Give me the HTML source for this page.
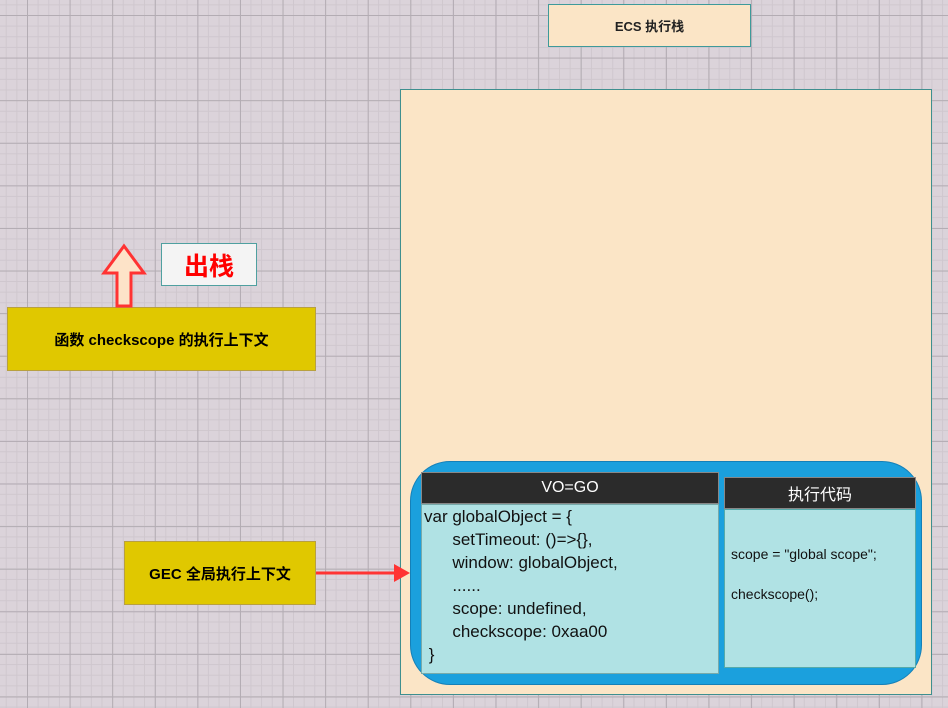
<!DOCTYPE html>
<html><head><meta charset="utf-8"><style>
body{margin:0;width:948px;height:708px;overflow:hidden;position:relative;font-family:"Liberation Sans","Noto Sans CJK SC",sans-serif;
background-color:#dbd3da;
background-image:linear-gradient(#b3acb3 1px,transparent 1px),linear-gradient(90deg,#b3acb3 1px,transparent 1px),linear-gradient(#cfc7ce 1px,transparent 1px),linear-gradient(90deg,#cfc7ce 1px,transparent 1px);
background-size:42.6px 42.6px,42.6px 42.6px,10.65px 10.65px,10.65px 10.65px;
background-position:27px 15px,27px 15px,27px 15px,27px 15px;}
.a{position:absolute;box-sizing:border-box}
</style></head><body>
<div class="a" style="left:548px;top:4px;width:203px;height:43px;background:#fbe5c6;border:1px solid #3e9a9a;font-size:13px;font-weight:bold;color:#222;display:flex;align-items:center;justify-content:center">ECS 执行栈</div>
<div class="a" style="left:400px;top:89px;width:532px;height:606px;background:#fbe5c6;border:1px solid #3e8f8f"></div>
<div class="a" style="left:410px;top:461px;width:512px;height:224px;background:#1ba0dd;border:1px solid #1580b8;border-radius:40px"></div>
<div class="a" style="left:421px;top:472px;width:298px;height:32px;background:#2b2b2b;border:1px solid #888;color:#fff;font-size:16px;display:flex;align-items:center;justify-content:center">VO=GO</div>
<div class="a" style="left:421px;top:504px;width:298px;height:170px;background:#b0e2e4;border:1px solid #7aa;font-size:17px;line-height:23px;color:#111;padding:0 0 0 2px;white-space:pre">var globalObject = {
      setTimeout: ()=&gt;{},
      window: globalObject,
      ......
      scope: undefined,
      checkscope: 0xaa00
 }</div>
<div class="a" style="left:724px;top:477px;width:192px;height:32px;background:#2b2b2b;border:1px solid #888;color:#fff;font-size:16px;display:flex;align-items:center;justify-content:center">执行代码</div>
<div class="a" style="left:724px;top:509px;width:192px;height:159px;background:#b0e2e4;border:1px solid #5aa;font-size:14px;color:#111;padding:34px 0 0 6px;line-height:20px">scope = "global scope";<br><br>checkscope();</div>
<div class="a" style="left:124px;top:541px;width:192px;height:64px;background:#e0c800;border:1px solid #b8a040;font-size:15px;font-weight:bold;display:flex;align-items:center;justify-content:center">GEC 全局执行上下文</div>
<div class="a" style="left:7px;top:307px;width:309px;height:64px;background:#e0c800;border:1px solid #b8a040;font-size:15px;font-weight:bold;display:flex;align-items:center;justify-content:center">函数 checkscope 的执行上下文</div>
<div class="a" style="left:161px;top:243px;width:96px;height:43px;background:#f4f4f4;border:1px solid #4fa0a0;color:#f00;font-size:25px;font-weight:bold;display:flex;align-items:center;justify-content:center">出栈</div>
<svg class="a" style="left:0;top:0" width="948" height="708">
<polygon points="117,306 131,306 131,273 144,273 124,246 104,273 117,273" fill="#fde3c8" stroke="#f33" stroke-width="3"/>
<line x1="316" y1="573" x2="398" y2="573" stroke="#f33" stroke-width="3"/>
<polygon points="410,573 394,564 394,582" fill="#f33"/>
</svg>
</body></html>
